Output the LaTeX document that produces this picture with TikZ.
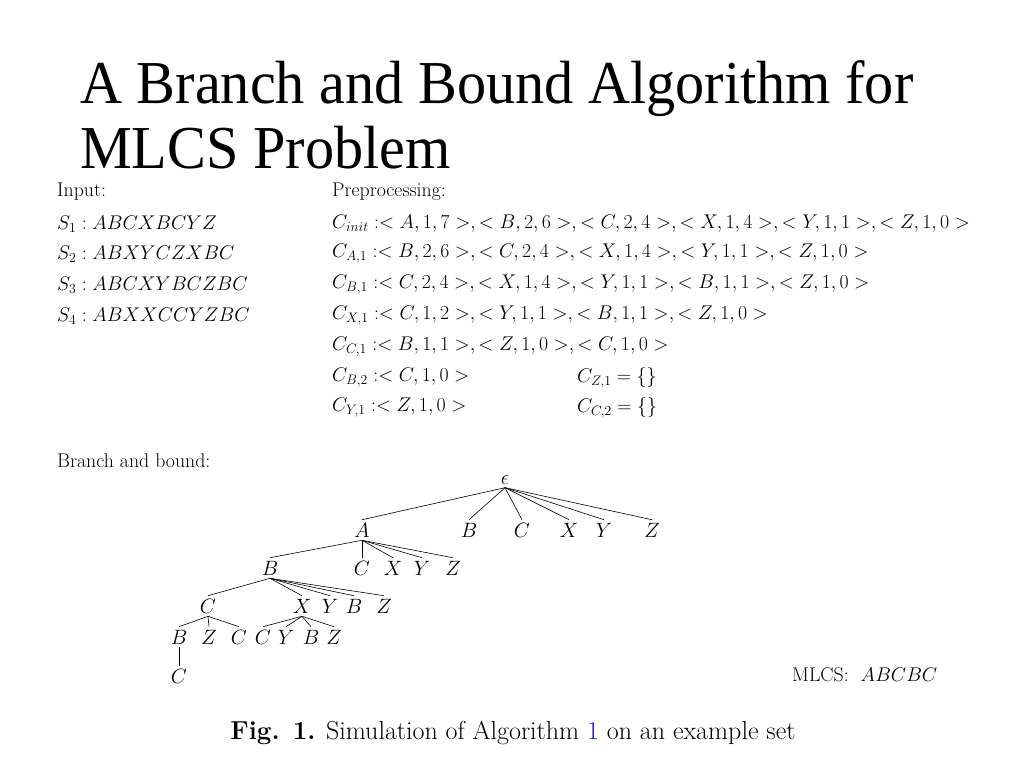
\documentclass[tikz,border=0pt]{standalone}
\usepackage{fontspec}
\newfontfamily\titlefont{Liberation Serif}
\usetikzlibrary{positioning}
\definecolor{linkblue}{rgb}{0.1,0.1,0.85}
\tikzset{
  txt/.style={anchor=west,inner sep=0pt,scale=0.955,transform shape,font=\fontsize{20.74}{25}\selectfont},
  lbl/.style={inner sep=3pt,font=\fontsize{20.74}{25}\selectfont},
  ttl/.style={anchor=base west,inner sep=0pt,xscale=0.955,font=\titlefont\fontsize{61}{70}\selectfont},
  edge/.style={draw,line width=0.6pt}
}
\begin{document}
\begin{tikzpicture}[x=1pt,y=-1pt]
  \useasboundingbox (0,0) rectangle (1024,768);
  % title
  \node[ttl] (title1) at (80,103) {A Branch and Bound Algorithm for};
  \node[ttl] (title2) at (80,168) {MLCS Problem};

  % input
  \node[txt] (inp) at (57,192) {Input:};
  \node[txt] (s1) at (57,224) {$S_1: ABCXBCYZ$};
  \node[txt] (s2) at (57,254) {$S_2: ABXYCZXBC$};
  \node[txt] (s3) at (57,285) {$S_3: ABCXYBCZBC$};
  \node[txt] (s4) at (57,316) {$S_4: ABXXCCYZBC$};

  % preprocessing
  \node[txt] (pre) at (332,192) {Preprocessing:};
  \node[txt] (cinit) at (332,224) {$C_{init}:<A,1,7>,<B,2,6>,<C,2,4>,<X,1,4>,<Y,1,1>,<Z,1,0>$};
  \node[txt] (ca1) at (332,254) {$C_{A,1}:<B,2,6>,<C,2,4>,<X,1,4>,<Y,1,1>,<Z,1,0>$};
  \node[txt] (cb1) at (332,285) {$C_{B,1}:<C,2,4>,<X,1,4>,<Y,1,1>,<B,1,1>,<Z,1,0>$};
  \node[txt] (cx1) at (332,316) {$C_{X,1}:<C,1,2>,<Y,1,1>,<B,1,1>,<Z,1,0>$};
  \node[txt] (cc1) at (332,347) {$C_{C,1}:<B,1,1>,<Z,1,0>,<C,1,0>$};
  \node[txt] (cb2) at (332,378) {$C_{B,2}:<C,1,0>$};
  \node[txt] (cy1) at (332,408) {$C_{Y,1}:<Z,1,0>$};
  \node[txt] (cz1) at (577,378) {$C_{Z,1}=\{\}$};
  \node[txt] (cc2) at (577,408) {$C_{C,2}=\{\}$};

  % branch and bound
  \node[txt] (bb) at (57,461) {Branch and bound:};
  \node[lbl] (r) at (505,480) {$\epsilon$};
  \node[lbl] (a) at (362,530) {$A$};
  \node[lbl] (ab) at (469,530) {$B$};
  \node[lbl] (ac) at (522,530) {$C$};
  \node[lbl] (ax) at (569,530) {$X$};
  \node[lbl] (ay) at (604,530) {$Y$};
  \node[lbl] (az) at (652,530) {$Z$};
  \node[lbl] (b) at (270,568) {$B$};
  \node[lbl] (bc) at (362,568) {$C$};
  \node[lbl] (bx) at (393,568) {$X$};
  \node[lbl] (by) at (422,568) {$Y$};
  \node[lbl] (bz) at (453,568) {$Z$};
  \node[lbl] (c) at (208,606) {$C$};
  \node[lbl] (x) at (302,606) {$X$};
  \node[lbl] (cy) at (330,606) {$Y$};
  \node[lbl] (cb) at (354,606) {$B$};
  \node[lbl] (cz) at (384,606) {$Z$};
  \node[lbl] (d) at (179,637) {$B$};
  \node[lbl] (dz) at (209,637) {$Z$};
  \node[lbl] (dc) at (239,637) {$C$};
  \node[lbl] (xc) at (263,637) {$C$};
  \node[lbl] (xy) at (286,637) {$Y$};
  \node[lbl] (xb) at (311,637) {$B$};
  \node[lbl] (xz) at (334,637) {$Z$};
  \node[lbl] (e) at (179,676) {$C$};

  \foreach \p/\cs in {r/{a,ab,ac,ax,ay,az},a/{b,bc,bx,by,bz},b/{c,x,cy,cb,cz},c/{d,dz,dc},x/{xc,xy,xb,xz},d/{e}}
    \foreach \k in \cs
      \draw[edge] (\p.south) -- (\k.north);

  \node[txt] (mlcs) at (792,675) {MLCS:\ \ $ABCBC$};

  % caption
  \node[inner sep=0pt,font=\fontsize{26}{30}\selectfont] (cap) at (513,733) {\textbf{Fig. 1.} Simulation of Algorithm {\color{linkblue}1} on an example set};
\end{tikzpicture}
\end{document}
